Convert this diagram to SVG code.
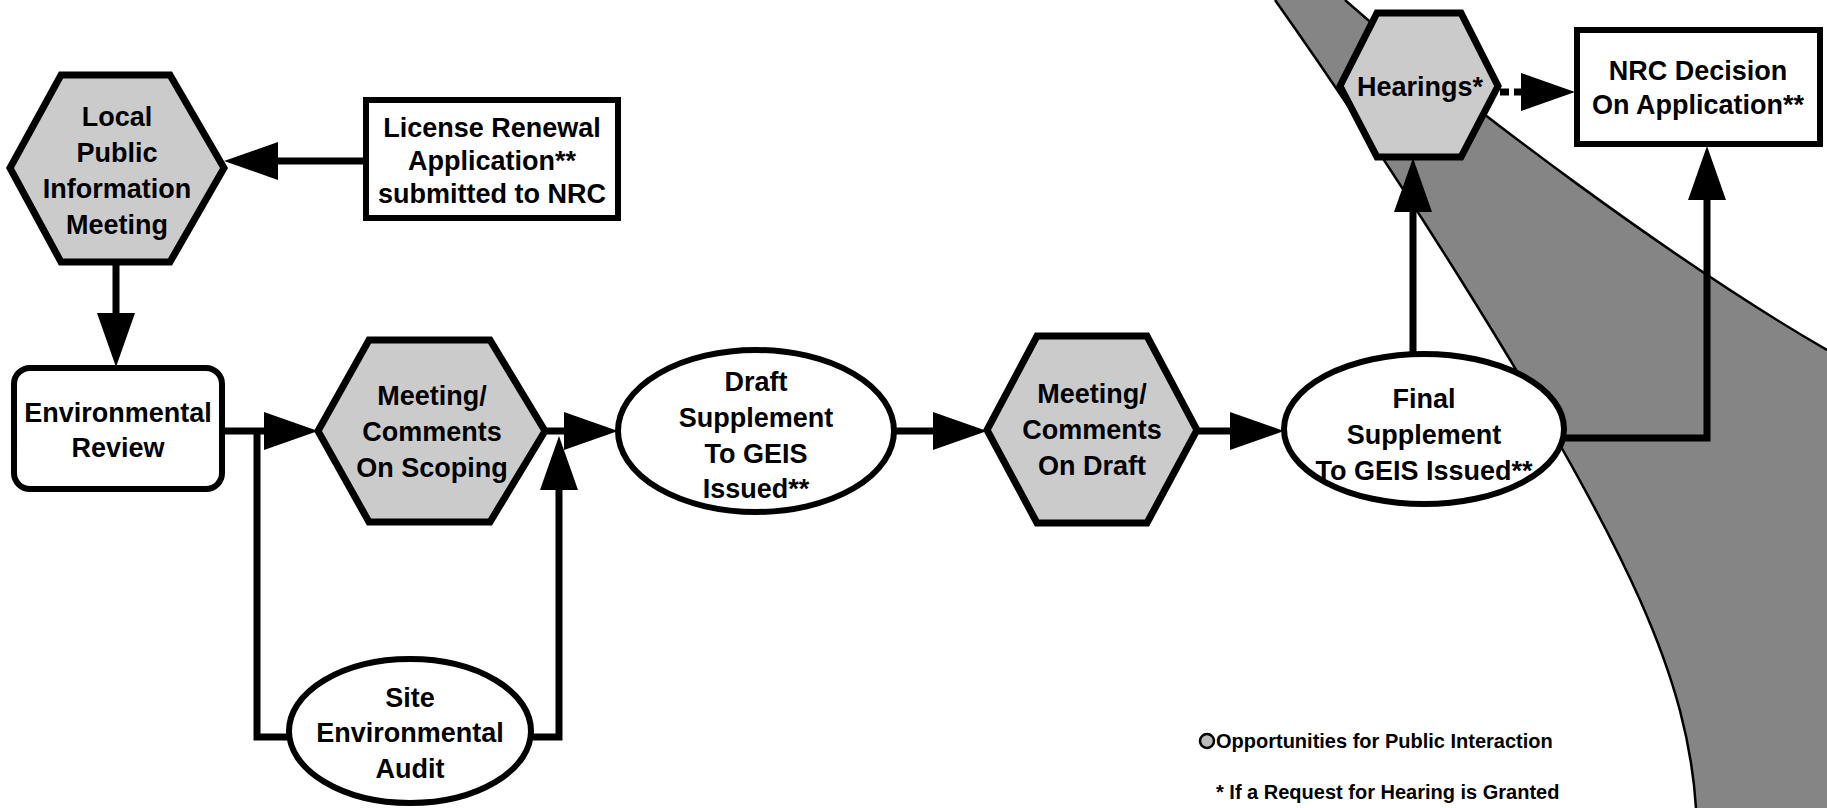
<svg xmlns="http://www.w3.org/2000/svg" width="1827" height="808" viewBox="0 0 1827 808">
<defs>
<style>
.t{font-family:"Liberation Sans",Arial,sans-serif;font-weight:bold;font-size:27px;text-anchor:middle;fill:#000}
.lg{font-family:"Liberation Sans",Arial,sans-serif;font-weight:bold;font-size:20px;fill:#000}
.hex{fill:#cbcbcb;stroke:#000;stroke-width:7;stroke-linejoin:miter}
.box{fill:#fff;stroke:#000;stroke-width:6}
.ell{fill:#fff;stroke:#000;stroke-width:6}
.c{fill:none;stroke:#000;stroke-width:7;stroke-linejoin:miter}
.edge{fill:none;stroke:#000;stroke-width:2.5}
</style>
<marker id="ah" markerUnits="userSpaceOnUse" markerWidth="56" markerHeight="40" refX="0" refY="20" orient="auto">
<path d="M0,1 L54,20 L0,39 Z" fill="#000"/>
</marker>
</defs>
<rect width="1827" height="808" fill="#fff"/>
<g id="band">
<path d="M1275,0 C1360,120 1560,420 1640,600 C1676,681 1692,745 1696,808 L1827,808 L1827,350 C1680,265 1470,110 1345,0 Z" fill="#858585"/>
<path class="edge" d="M1275,0 C1360,120 1560,420 1640,600 C1676,681 1692,745 1696,808"/>
<path class="edge" d="M1827,350 C1680,265 1470,110 1345,0"/>
</g>
<g id="connectors">
<path class="c" d="M366,161 L278,161" marker-end="url(#ah)"/>
<path class="c" d="M116,262 L116,313" marker-end="url(#ah)"/>
<path class="c" d="M224,431 L264,431" marker-end="url(#ah)"/>
<path class="c" d="M257,431 L257,737 L292,737"/>
<path class="c" d="M529,737 L559,737 L559,490" marker-end="url(#ah)"/>
<path class="c" d="M545,431 L564,431" marker-end="url(#ah)"/>
<path class="c" d="M894,431 L933,431" marker-end="url(#ah)"/>
<path class="c" d="M1197,431 L1230,431" marker-end="url(#ah)"/>
<path class="c" d="M1413,356 L1413,212" marker-end="url(#ah)"/>
<path class="c" d="M1563,438 L1707,438 L1707,200" marker-end="url(#ah)"/>
<path class="c" d="M1500,92 L1521,92" stroke-dasharray="9 5" marker-end="url(#ah)"/>
</g>
<g id="local-meeting">
<polygon class="hex" points="10,168 61,75 170,75 224,168 170,262 61,262"/>
<text class="t" x="117" y="126">Local</text>
<text class="t" x="117" y="162">Public</text>
<text class="t" x="117" y="198">Information</text>
<text class="t" x="117" y="234">Meeting</text>
</g>
<g id="license-application">
<rect class="box" x="366" y="100" width="252" height="118"/>
<text class="t" x="492" y="137">License Renewal</text>
<text class="t" x="492" y="170">Application**</text>
<text class="t" x="492" y="203">submitted to NRC</text>
</g>
<g id="environmental-review">
<rect class="box" x="14" y="368" width="208" height="121" rx="16"/>
<text class="t" x="118" y="422">Environmental</text>
<text class="t" x="118" y="457">Review</text>
</g>
<g id="scoping-meeting">
<polygon class="hex" points="318,431 369,340 490,340 545,431 490,522 369,522"/>
<text class="t" x="432" y="405">Meeting/</text>
<text class="t" x="432" y="441">Comments</text>
<text class="t" x="432" y="477">On Scoping</text>
</g>
<g id="site-audit">
<ellipse class="ell" cx="410" cy="731" rx="121" ry="72"/>
<text class="t" x="410" y="707">Site</text>
<text class="t" x="410" y="742">Environmental</text>
<text class="t" x="410" y="778">Audit</text>
</g>
<g id="draft-supplement">
<ellipse class="ell" cx="756" cy="431" rx="138" ry="81"/>
<text class="t" x="756" y="391">Draft</text>
<text class="t" x="756" y="427">Supplement</text>
<text class="t" x="756" y="463">To GEIS</text>
<text class="t" x="756" y="498">Issued**</text>
</g>
<g id="draft-meeting">
<polygon class="hex" points="987,430 1037,336 1147,336 1197,430 1147,523 1037,523"/>
<text class="t" x="1092" y="403">Meeting/</text>
<text class="t" x="1092" y="439">Comments</text>
<text class="t" x="1092" y="475">On Draft</text>
</g>
<g id="final-supplement">
<ellipse class="ell" cx="1424" cy="429" rx="140" ry="75"/>
<text class="t" x="1424" y="408">Final</text>
<text class="t" x="1424" y="444">Supplement</text>
<text class="t" x="1424" y="480">To GEIS Issued**</text>
</g>
<g id="hearings">
<polygon class="hex" points="1340,86 1377,13 1461,13 1498,86 1461,157 1377,157"/>
<text class="t" x="1420" y="96">Hearings*</text>
</g>
<g id="nrc-decision">
<rect class="box" x="1577" y="30" width="243" height="114"/>
<text class="t" x="1698" y="80">NRC Decision</text>
<text class="t" x="1698" y="114">On Application**</text>
</g>
<g id="legend">
<circle cx="1207" cy="741" r="7" fill="#bbb" stroke="#000" stroke-width="2.5"/>
<text class="lg" x="1216" y="748">Opportunities for Public Interaction</text>
<text class="lg" x="1216" y="799">* If a Request for Hearing is Granted</text>
</g>
</svg>
